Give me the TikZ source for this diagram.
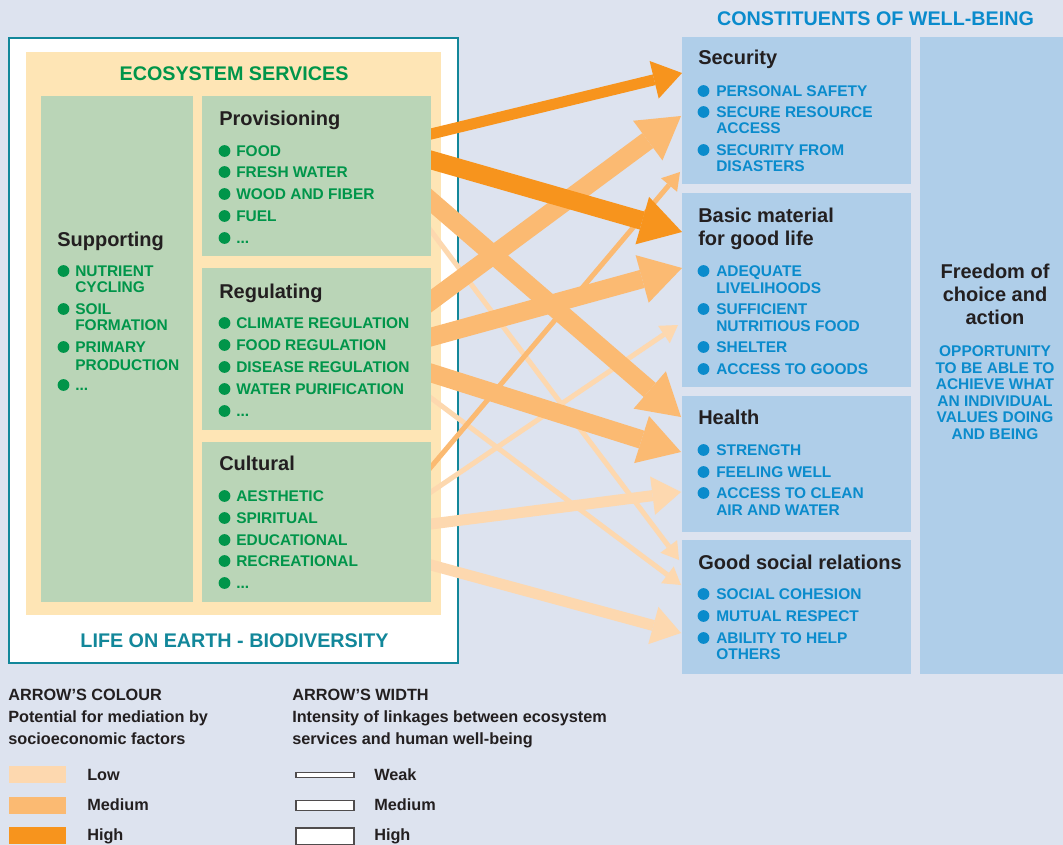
\documentclass[tikz,border=0pt]{standalone}
\usepackage{fontspec}
\setmainfont{Liberation Sans}
\usetikzlibrary{arrows.meta,fit}
\definecolor{bgc}{HTML}{DDE3EF}
\definecolor{boxblue}{HTML}{AFCEE9}
\definecolor{cream}{HTML}{FEE5B5}
\definecolor{greenbox}{HTML}{BAD5B7}
\definecolor{gtxt}{HTML}{00954A}
\definecolor{btxt}{HTML}{0A8BCC}
\definecolor{dtxt}{HTML}{231F20}
\definecolor{tealc}{HTML}{12879A}
\definecolor{ohigh}{HTML}{F7941D}
\definecolor{omed}{HTML}{FBBA72}
\definecolor{olow}{HTML}{FDD8AF}
\newcommand\mzItem{\fontsize{11.6pt}{12pt}\selectfont}
\newcommand\mzHead{\fontsize{15pt}{17pt}\selectfont}
\newcommand\mzTitle{\fontsize{14.8pt}{17pt}\selectfont}
\newcommand\mzLeg{\fontsize{12.2pt}{14pt}\selectfont}
\newcommand\mzIt[6]{\fill[#1] (#2,#4) circle[radius=4.4pt]; \node[txt,text=#1,font=\mzItem\bfseries] (#5) at (#3,#4+5.5) {#6};}
\begin{document}
\begin{tikzpicture}[x=0.75pt,y=-0.75pt,
  txt/.style={inner sep=0pt, anchor=base west},
  head/.style={txt, text=dtxt, font=\mzHead\bfseries},
  line2/.style={txt, font=\mzItem\bfseries},
  title/.style={inner sep=0pt, anchor=base, font=\mzTitle\bfseries},
  leg/.style={txt, text=dtxt, font=\mzLeg\bfseries},
  area/.style={inner sep=0pt, outer sep=0pt},
  wH/.style={line width=13.9pt, -{Triangle[length=31pt,width=37pt,line width=0pt]}, shorten <=-9pt},
  wM/.style={line width=8.25pt, -{Triangle[length=21.5pt,width=29pt,line width=0pt]}, shorten <=-9pt},
  wW/.style={line width=3.75pt, -{Triangle[length=12.75pt,width=15.75pt,line width=0pt]}, shorten <=-9pt},
]
\fill[bgc] (0,0) rectangle (1063,845);
\useasboundingbox (0,0) rectangle (1063,845);

% left frame
\node[area, fit={(9,38) (458,663)}, draw=tealc, line width=1.6pt, fill=white] (life) {};
\node[area, fit={(26,52) (441,615)}, fill=cream] (es) {};

% arrows (under the green boxes)
\coordinate (a1s) at (431,134);  \coordinate (a1e) at (682,73);
\coordinate (a2s) at (431,160);  \coordinate (a2e) at (682,232);
\coordinate (a3s) at (431,201);  \coordinate (a3e) at (681,417);
\coordinate (a4s) at (431,231);  \coordinate (a4e) at (679,560);
\coordinate (a5s) at (431,301);  \coordinate (a5e) at (681,116);
\coordinate (a6s) at (431,337);  \coordinate (a6e) at (682,268);
\coordinate (a7s) at (431,373);  \coordinate (a7e) at (681,452);
\coordinate (a8s) at (431,398);  \coordinate (a8e) at (681,585);
\coordinate (a9s) at (431,467);  \coordinate (a9e) at (680,172);
\coordinate (a10s) at (431,492); \coordinate (a10e) at (678,325);
\coordinate (a11s) at (431,524); \coordinate (a11e) at (681,492);
\coordinate (a12s) at (431,565); \coordinate (a12e) at (681,633);

\draw[wW, olow] (a4s) -- (a4e);
\draw[wW, olow] (a8s) -- (a8e);
\draw[wW, olow] (a10s) -- (a10e);
\draw[wM, olow] (a11s) -- (a11e);
\draw[wM, olow] (a12s) -- (a12e);
\draw[wW, omed] (a9s) -- (a9e);
\draw[wH, omed] (a3s) -- (a3e);
\draw[wH, omed] (a5s) -- (a5e);
\draw[wH, omed] (a6s) -- (a6e);
\draw[wH, omed] (a7s) -- (a7e);
\draw[wM, ohigh] (a1s) -- (a1e);
\draw[wH, ohigh] (a2s) -- (a2e);

% green boxes
\node[area, fit={(41,96) (193,602)}, fill=greenbox] (sup) {};
\node[area, fit={(202,96) (431,256)}, fill=greenbox] (prov) {};
\node[area, fit={(202,268) (431,430)}, fill=greenbox] (reg) {};
\node[area, fit={(202,442) (431,602)}, fill=greenbox] (cult) {};

\node[title, text=gtxt] (estitle) at (234,80.7) {ECOSYSTEM SERVICES};
\node[title, text=tealc] (lifetitle) at (234.5,647.3) {LIFE ON EARTH - BIODIVERSITY};

% Supporting
\node[head] (suph) at (57,246) {Supporting};
\mzIt{gtxt}{63.5}{75}{271}{sup1}{NUTRIENT}
\node[line2, text=gtxt] (sup1b) at (75,292.5) {CYCLING};
\mzIt{gtxt}{63.5}{75}{309}{sup2}{SOIL}
\node[line2, text=gtxt] (sup2b) at (75,330.8) {FORMATION};
\mzIt{gtxt}{63.5}{75}{347}{sup3}{PRIMARY}
\node[line2, text=gtxt] (sup3b) at (75,370) {PRODUCTION};
\mzIt{gtxt}{63.5}{75}{385}{sup4}{...}

% Provisioning
\node[head] (provh) at (219,125.7) {Provisioning};
\mzIt{gtxt}{224.5}{236}{151}{prov1}{FOOD}
\mzIt{gtxt}{224.5}{236}{172}{prov2}{FRESH WATER}
\mzIt{gtxt}{224.5}{236}{194}{prov3}{WOOD AND FIBER}
\mzIt{gtxt}{224.5}{236}{216}{prov4}{FUEL}
\mzIt{gtxt}{224.5}{236}{238}{prov5}{...}

% Regulating
\node[head] (regh) at (219,298) {Regulating};
\mzIt{gtxt}{224.5}{236}{323}{reg1}{CLIMATE REGULATION}
\mzIt{gtxt}{224.5}{236}{345}{reg2}{FOOD REGULATION}
\mzIt{gtxt}{224.5}{236}{367}{reg3}{DISEASE REGULATION}
\mzIt{gtxt}{224.5}{236}{389}{reg4}{WATER PURIFICATION}
\mzIt{gtxt}{224.5}{236}{411}{reg5}{...}

% Cultural
\node[head] (culth) at (219,470) {Cultural};
\mzIt{gtxt}{224.5}{236}{496}{cult1}{AESTHETIC}
\mzIt{gtxt}{224.5}{236}{518}{cult2}{SPIRITUAL}
\mzIt{gtxt}{224.5}{236}{540}{cult3}{EDUCATIONAL}
\mzIt{gtxt}{224.5}{236}{561}{cult4}{RECREATIONAL}
\mzIt{gtxt}{224.5}{236}{583}{cult5}{...}

% right side
\node[title, text=btxt] (cwtitle) at (875.5,26) {CONSTITUENTS OF WELL-BEING};
\node[area, fit={(682,37) (911,184)}, fill=boxblue] (sec) {};
\node[area, fit={(682,193) (911,387)}, fill=boxblue] (basic) {};
\node[area, fit={(682,396) (911,532)}, fill=boxblue] (health) {};
\node[area, fit={(682,540) (911,674)}, fill=boxblue] (social) {};
\node[area, fit={(920,37) (1063,674)}, fill=boxblue] (free) {};

\node[head] (sech) at (698,64.5) {Security};
\mzIt{btxt}{703.5}{716}{91}{sec1}{PERSONAL SAFETY}
\mzIt{btxt}{703.5}{716}{112}{sec2}{SECURE RESOURCE}
\node[line2, text=btxt] (sec2b) at (716,133.5) {ACCESS};
\mzIt{btxt}{703.5}{716}{150}{sec3}{SECURITY FROM}
\node[line2, text=btxt] (sec3b) at (716,171.5) {DISASTERS};

\node[head] (basich) at (698,222.3) {Basic material};
\node[head] (basich2) at (698,245) {for good life};
\mzIt{btxt}{703.5}{716}{271}{bas1}{ADEQUATE}
\node[line2, text=btxt] (bas1b) at (716,293.5) {LIVELIHOODS};
\mzIt{btxt}{703.5}{716}{309}{bas2}{SUFFICIENT}
\node[line2, text=btxt] (bas2b) at (716,331.5) {NUTRITIOUS FOOD};
\mzIt{btxt}{703.5}{716}{347}{bas3}{SHELTER}
\mzIt{btxt}{703.5}{716}{369}{bas4}{ACCESS TO GOODS}

\node[head] (healthh) at (698,424.3) {Health};
\mzIt{btxt}{703.5}{716}{450}{hea1}{STRENGTH}
\mzIt{btxt}{703.5}{716}{472}{hea2}{FEELING WELL}
\mzIt{btxt}{703.5}{716}{493}{hea3}{ACCESS TO CLEAN}
\node[line2, text=btxt] (hea3b) at (716,515.5) {AIR AND WATER};

\node[head] (socialh) at (698,569) {Good social relations};
\mzIt{btxt}{703.5}{716}{594}{soc1}{SOCIAL COHESION}
\mzIt{btxt}{703.5}{716}{616}{soc2}{MUTUAL RESPECT}
\mzIt{btxt}{703.5}{716}{638}{soc3}{ABILITY TO HELP}
\node[line2, text=btxt] (soc3b) at (716,659.5) {OTHERS};

\node[head, anchor=base] (fr1) at (995,278) {Freedom of};
\node[head, anchor=base] (fr2) at (995,301) {choice and};
\node[head, anchor=base] (fr3) at (995,324) {action};
\node[line2, anchor=base, text=btxt] (fo1) at (995,356.7) {OPPORTUNITY};
\node[line2, anchor=base, text=btxt] (fo2) at (995,373.2) {TO BE ABLE TO};
\node[line2, anchor=base, text=btxt] (fo3) at (995,389.7) {ACHIEVE WHAT};
\node[line2, anchor=base, text=btxt] (fo4) at (995,406.2) {AN INDIVIDUAL};
\node[line2, anchor=base, text=btxt] (fo5) at (995,422.7) {VALUES DOING};
\node[line2, anchor=base, text=btxt] (fo6) at (995,439.2) {AND BEING};

% legend
\node[leg] (lc1) at (8,700.7) {ARROW'S COLOUR};
\node[leg] (lc2) at (8,722.3) {Potential for mediation by};
\node[leg] (lc3) at (8,744) {socioeconomic factors};
\node[area, fit={(9,766) (66,783)}, fill=olow] (swl) {};
\node[area, fit={(9,796.5) (66,813.5)}, fill=omed] (swm) {};
\node[area, fit={(9,827) (66,844)}, fill=ohigh] (swh) {};
\node[leg] (ll) at (87,780) {Low};
\node[leg] (lm) at (87,810.7) {Medium};
\node[leg] (lh) at (87,840.7) {High};

\node[leg] (lw1) at (292,700.7) {ARROW'S WIDTH};
\node[leg] (lw2) at (292,722.3) {Intensity of linkages between ecosystem};
\node[leg] (lw3) at (292,744) {services and human well-being};
\node[area, fit={(296,772.5) (354,777.5)}, draw=dtxt!80, line width=0.9pt, fill=white] (bw) {};
\node[area, fit={(296,800.7) (354,810.7)}, draw=dtxt!80, line width=0.9pt, fill=white] (bm) {};
\node[area, fit={(296,828) (354,845)}, draw=dtxt!80, line width=0.9pt, fill=white] (bh) {};
\node[leg] (lww) at (374,780) {Weak};
\node[leg] (lwm) at (374,810.7) {Medium};
\node[leg] (lwh) at (374,840.7) {High};
\end{tikzpicture}
\end{document}
